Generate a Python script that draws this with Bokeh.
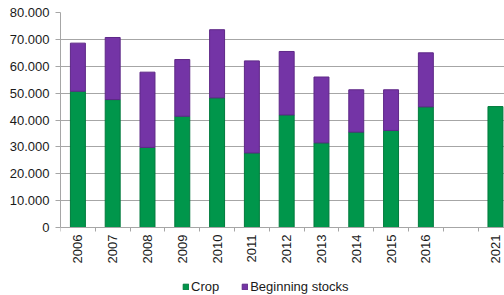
from bokeh.plotting import figure
from bokeh.models import Range1d, FixedTicker, Legend, LegendItem, ColumnDataSource
from bokeh.embed import file_html
from bokeh.resources import INLINE
import math

years = ["2006", "2007", "2008", "2009", "2010", "2011", "2012", "2013", "2014", "2015", "2016", "", "2021"]
crop = [50700, 47600, 29800, 41400, 48250, 27750, 41900, 31500, 35500, 36100, 44900, float("nan"), 45000]
stocks = [17900, 23100, 28000, 21100, 25350, 34250, 23600, 24500, 15750, 15150, 20100, float("nan"), float("nan")]
y_ticks = [0, 10000, 20000, 30000, 40000, 50000, 60000, 70000, 80000]
y_labels = ["0", "10.000", "20.000", "30.000", "40.000", "50.000", "60.000", "70.000", "80.000"]

FONT = "Liberation Sans"
TXT = "#1a1a1a"
GRID = "#a6a6a6"

Y_MAX = 80000
PLOT_PX = 215      # pixels from 0 to 80.000
BELOW_PX = 68      # room under the zero line for year labels and legend
y_start = -Y_MAX * BELOW_PX / PLOT_PX

xs = list(range(len(years)))
src = ColumnDataSource(dict(x=xs, crop=crop, stocks=stocks, year=years))

p = figure(frame_width=444, frame_height=PLOT_PX + BELOW_PX,
           output_backend="svg", toolbar_location=None,
           x_range=Range1d(-0.5, 12.26), y_range=Range1d(y_start, Y_MAX),
           min_border_left=60, min_border_right=0, min_border_top=12, min_border_bottom=0)
p.outline_line_color = None
p.background_fill_color = "white"

r = p.vbar_stack(["crop", "stocks"], x="x", width=0.43, source=src,
                 color=["#00964B", "#7434A6"],
                 line_color=["#007A3C", "#5E2887"], line_width=1)

# x axis, drawn on the zero line
p.xaxis.fixed_location = 0
p.xaxis.ticker = FixedTicker(ticks=xs, minor_ticks=[i - 0.5 for i in range(len(years) + 1)])
p.xaxis.major_label_overrides = {i: y for i, y in enumerate(years)}
p.xaxis.major_label_orientation = math.pi / 2
p.xaxis.major_tick_line_color = None
p.xaxis.major_tick_out = 0
p.xaxis.major_tick_in = 0
p.xaxis.minor_tick_out = 4
p.xaxis.minor_tick_in = 0
p.xaxis.minor_tick_line_color = GRID
p.xaxis.axis_line_color = GRID
p.xaxis.major_label_standoff = 3
p.xaxis.major_label_text_font = FONT
p.xaxis.major_label_text_font_size = "13px"
p.xaxis.major_label_text_color = TXT

# y axis
p.yaxis.ticker = FixedTicker(ticks=y_ticks)
p.yaxis.bounds = (0, Y_MAX)
p.yaxis.major_label_overrides = {t: l for t, l in zip(y_ticks, y_labels)}
p.yaxis.major_tick_out = 5
p.yaxis.major_tick_in = 0
p.yaxis.minor_tick_line_color = None
p.yaxis.major_tick_line_color = GRID
p.yaxis.axis_line_color = GRID
p.yaxis.major_label_standoff = 6
p.yaxis.major_label_text_font = FONT
p.yaxis.major_label_text_font_size = "13px"
p.yaxis.major_label_text_color = TXT

p.xgrid.grid_line_color = None
p.ygrid.grid_line_color = GRID
p.ygrid.ticker = FixedTicker(ticks=y_ticks)

legend = Legend(items=[LegendItem(label="Crop", renderers=[r[0]]),
                       LegendItem(label="Beginning stocks", renderers=[r[1]])],
                orientation="horizontal", location=(122, 1),
                label_text_font=FONT, label_text_font_size="13px", label_text_color=TXT,
                glyph_width=7, glyph_height=7, label_standoff=2, spacing=22,
                padding=3, margin=0, border_line_color=None, background_fill_alpha=0,
                label_height=14)
p.add_layout(legend, "center")

open("out.html", "w").write(file_html(p, INLINE))
